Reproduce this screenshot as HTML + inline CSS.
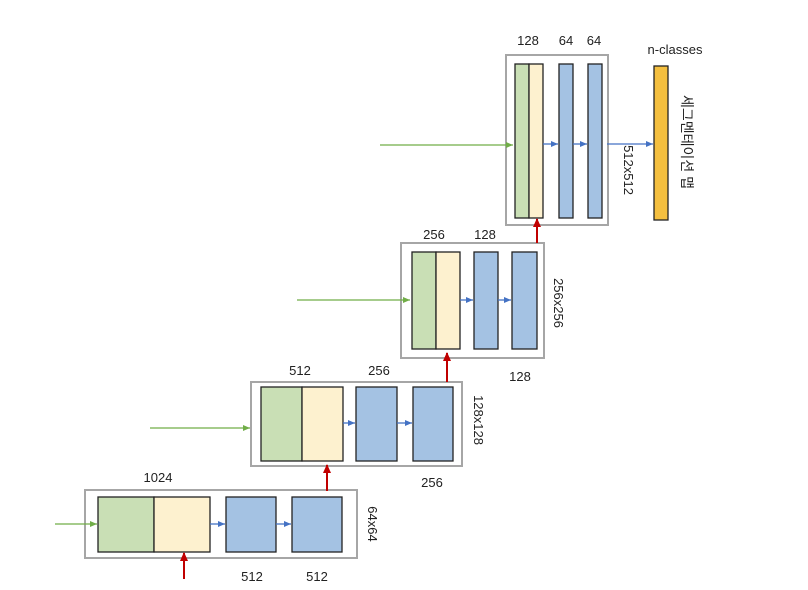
<!DOCTYPE html>
<html><head><meta charset="utf-8"><style>
html,body{margin:0;padding:0;background:#fff;width:808px;height:590px;overflow:hidden}
text{font-family:"Liberation Sans","Noto Sans CJK KR",sans-serif;font-size:13px;fill:#222}
</style></head><body>
<svg width="808" height="590" viewBox="0 0 808 590" xmlns="http://www.w3.org/2000/svg">
<defs>
<marker id="g" markerWidth="8" markerHeight="8" refX="7" refY="4" orient="auto" markerUnits="userSpaceOnUse"><path d="M0,1 L7,4 L0,7z" fill="#70ad47"/></marker>
<marker id="b" markerWidth="8" markerHeight="8" refX="7" refY="4" orient="auto" markerUnits="userSpaceOnUse"><path d="M0,1 L7,4 L0,7z" fill="#4472c4"/></marker>
<marker id="r" markerWidth="10" markerHeight="10" refX="8" refY="5" orient="auto" markerUnits="userSpaceOnUse"><path d="M0,1 L9,5 L0,9z" fill="#c00000"/></marker>
</defs>
<g stroke="#a6a6a6" stroke-width="2" fill="#fff">
<rect x="85" y="490" width="272" height="68"/>
<rect x="251" y="382" width="211" height="84"/>
<rect x="401" y="243" width="143" height="115"/>
<rect x="506" y="55" width="102" height="170"/>
</g>
<g stroke="#222" stroke-width="1.3">
<rect x="98" y="497" width="56" height="55" fill="#c9dfb5"/>
<rect x="154" y="497" width="56" height="55" fill="#fdf1cf"/>
<rect x="226" y="497" width="50" height="55" fill="#a4c2e3"/>
<rect x="292" y="497" width="50" height="55" fill="#a4c2e3"/>
<rect x="261" y="387" width="41" height="74" fill="#c9dfb5"/>
<rect x="302" y="387" width="41" height="74" fill="#fdf1cf"/>
<rect x="356" y="387" width="41" height="74" fill="#a4c2e3"/>
<rect x="413" y="387" width="40" height="74" fill="#a4c2e3"/>
<rect x="412" y="252" width="24" height="97" fill="#c9dfb5"/>
<rect x="436" y="252" width="24" height="97" fill="#fdf1cf"/>
<rect x="474" y="252" width="24" height="97" fill="#a4c2e3"/>
<rect x="512" y="252" width="25" height="97" fill="#a4c2e3"/>
<rect x="515" y="64" width="14" height="154" fill="#c9dfb5"/>
<rect x="529" y="64" width="14" height="154" fill="#fdf1cf"/>
<rect x="559" y="64" width="14" height="154" fill="#a4c2e3"/>
<rect x="588" y="64" width="14" height="154" fill="#a4c2e3"/>
<rect x="654" y="66" width="14" height="154" fill="#f4bf3f"/>
</g>
<g stroke="#70ad47" stroke-width="1.3">
<line x1="55" y1="524" x2="97" y2="524" marker-end="url(#g)"/>
<line x1="150" y1="428" x2="250" y2="428" marker-end="url(#g)"/>
<line x1="297" y1="300" x2="410" y2="300" marker-end="url(#g)"/>
<line x1="380" y1="145" x2="513" y2="145" marker-end="url(#g)"/>
</g>
<g stroke="#4472c4" stroke-width="1.3">
<line x1="210" y1="524" x2="225" y2="524" marker-end="url(#b)"/>
<line x1="276" y1="524" x2="291" y2="524" marker-end="url(#b)"/>
<line x1="343" y1="423" x2="355" y2="423" marker-end="url(#b)"/>
<line x1="397" y1="423" x2="412" y2="423" marker-end="url(#b)"/>
<line x1="460" y1="300" x2="473" y2="300" marker-end="url(#b)"/>
<line x1="498" y1="300" x2="511" y2="300" marker-end="url(#b)"/>
<line x1="543" y1="144" x2="558" y2="144" marker-end="url(#b)"/>
<line x1="573" y1="144" x2="587" y2="144" marker-end="url(#b)"/>
<line x1="607" y1="144" x2="653" y2="144" marker-end="url(#b)"/>
</g>
<g stroke="#c00000" stroke-width="2">
<line x1="184" y1="579" x2="184" y2="553" marker-end="url(#r)"/>
<line x1="327" y1="491" x2="327" y2="465" marker-end="url(#r)"/>
<line x1="447" y1="382" x2="447" y2="353" marker-end="url(#r)"/>
<line x1="537" y1="243" x2="537" y2="219" marker-end="url(#r)"/>
</g>
<text x="158" y="482" text-anchor="middle">1024</text>
<text x="252" y="581" text-anchor="middle">512</text>
<text x="317" y="581" text-anchor="middle">512</text>
<text x="300" y="375" text-anchor="middle">512</text>
<text x="379" y="375" text-anchor="middle">256</text>
<text x="432" y="487" text-anchor="middle">256</text>
<text x="434" y="239" text-anchor="middle">256</text>
<text x="485" y="239" text-anchor="middle">128</text>
<text x="520" y="381" text-anchor="middle">128</text>
<text x="528" y="45" text-anchor="middle">128</text>
<text x="566" y="45" text-anchor="middle">64</text>
<text x="594" y="45" text-anchor="middle">64</text>
<text x="675" y="54" text-anchor="middle">n-classes</text>
<text transform="translate(368,524) rotate(90)" text-anchor="middle">64x64</text>
<text transform="translate(474,420) rotate(90)" text-anchor="middle">128x128</text>
<text transform="translate(554,303) rotate(90)" text-anchor="middle">256x256</text>
<text transform="translate(624,170) rotate(90)" text-anchor="middle">512x512</text>
<text transform="translate(682,142) rotate(90)" text-anchor="middle" style="font-size:14px">세그멘테이션 맵</text>
</svg>
</body></html>
